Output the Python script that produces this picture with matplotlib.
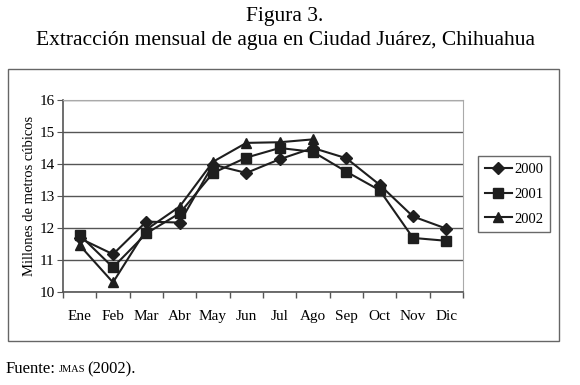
import numpy as np
import matplotlib
matplotlib.use("Agg")
import matplotlib.pyplot as plt
from matplotlib.patches import Rectangle

months = ["Ene", "Feb", "Mar", "Abr", "May", "Jun", "Jul", "Ago", "Sep", "Oct", "Nov", "Dic"]
y2000 = [11.68, 11.18, 12.20, 12.17, 13.98, 13.72, 14.15, 14.50, 14.18, 13.35, 12.36, 11.98]
y2001 = [11.78, 10.77, 11.83, 12.46, 13.72, 14.20, 14.50, 14.38, 13.76, 13.18, 11.69, 11.60]
y2002 = [11.46, 10.30, 11.95, 12.67, 14.07, 14.66, 14.68, 14.77, np.nan, np.nan, np.nan, np.nan]
series = [("2000", y2000, "D", 6), ("2001", y2001, "s", 7), ("2002", y2002, "^", 7)]

plt.rcParams["font.family"] = ["Liberation Serif", "DejaVu Serif"]

fig = plt.figure(figsize=(5.8, 3.85), dpi=100)
W, H = 580, 385

# outer chart frame
fig.patches.append(Rectangle((8 / W, 1 - 341 / H), (559 - 8) / W, (341 - 69) / H,
                             transform=fig.transFigure, fill=False,
                             edgecolor="#666666", linewidth=1.0))

ax = fig.add_axes([63 / W, 1 - 292 / H, (463 - 63) / W, (292 - 100) / H])
x = np.arange(len(months))
lines = []
for name, vals, mk, ms in series:
    ln, = ax.plot(x, vals, color="#1e1e1e", linewidth=1.5, marker=mk, markersize=ms, label=name)
    lines.append(ln)

ax.set_xlim(-0.5, len(months) - 0.5)
ax.set_ylim(10, 16)
ax.set_yticks(range(10, 17))
ax.yaxis.grid(True, color="#555555", linewidth=1.0)
ax.set_axisbelow(True)

ax.set_xticks(x)
ax.set_xticklabels(months, fontsize=11)
ax.tick_params(axis="x", length=0, pad=13)
ax.set_xticks(np.arange(-0.5, len(months)), minor=True)
ax.tick_params(axis="x", which="minor", length=4, direction="out", color="#555555", width=1)
ax.tick_params(axis="y", length=4, direction="out", color="#555555", labelsize=11, pad=2)

for s in ["top", "right"]:
    ax.spines[s].set_color("#aaaaaa")
for s in ["left", "bottom"]:
    ax.spines[s].set_color("#555555")
    ax.spines[s].set_linewidth(1.2)

ax.set_ylabel("Millones de metros cúbicos", fontsize=10.5)
ax.yaxis.set_label_coords(-0.068, 0.5)

leg = fig.legend(handles=lines, loc="upper left", bbox_to_anchor=(478 / W, 1 - 156 / H),
                 frameon=True, fancybox=False, fontsize=10.5, handlelength=1.9,
                 labelspacing=0.8, borderpad=0.45, handletextpad=0.15, borderaxespad=0)
leg.get_frame().set_edgecolor("#444444")
leg.get_frame().set_linewidth(1.0)

fig.text(285 / W, 1 - 16 / H, "Figura 3.", ha="center", va="center", fontsize=15.5)
fig.text(285 / W, 1 - 41 / H, "Extracción mensual de agua en Ciudad Juárez, Chihuahua",
         ha="center", va="center", fontsize=15.5)

fig.text(6 / W, 1 - 369 / H, "Fuente:", ha="left", va="center", fontsize=12)
fig.text(59 / W, 1 - 370 / H, "JMAS", ha="left", va="center", fontsize=7.5)
fig.text(87 / W, 1 - 369 / H, "(2002).", ha="left", va="center", fontsize=12)

fig.savefig("out.png", dpi=100)
